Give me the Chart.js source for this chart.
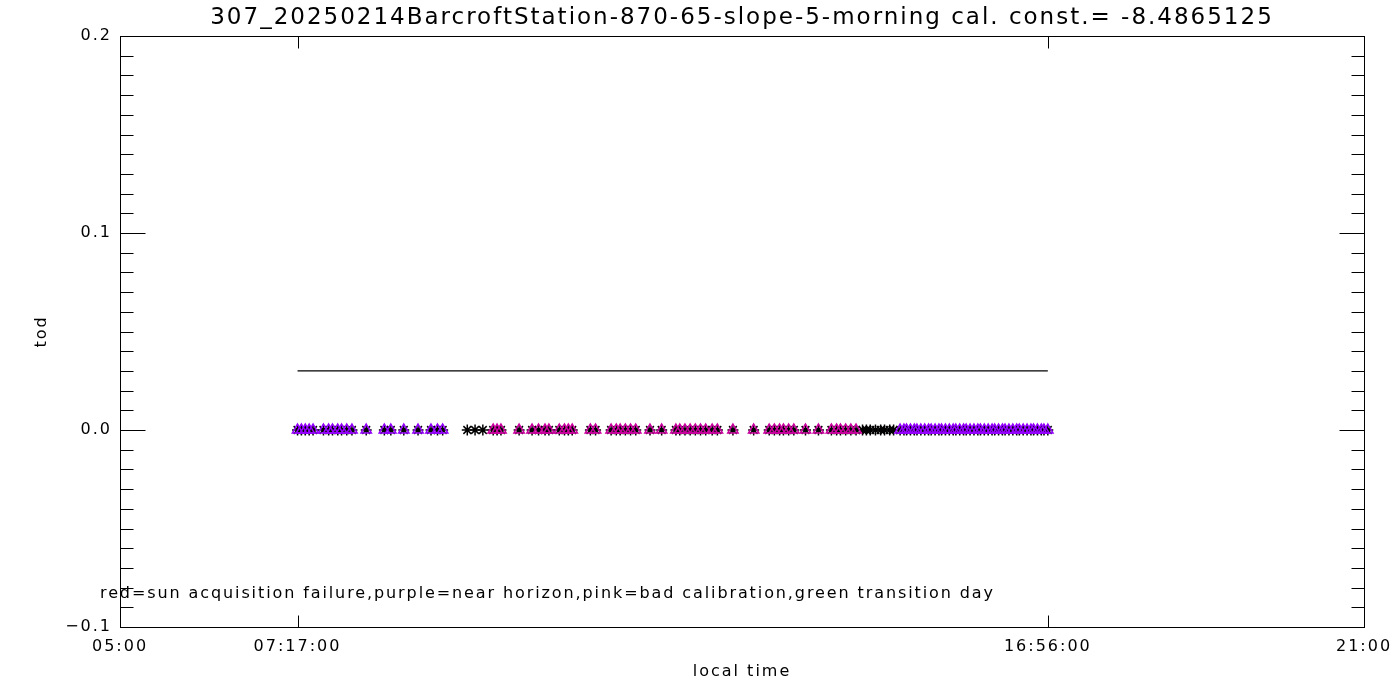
<!DOCTYPE html>
<html>
<head>
<meta charset="utf-8">
<script src="https://cdn.jsdelivr.net/npm/chart.js@4"></script>
<style>
  body { margin: 0; background: #fff; }
  canvas { display: block; }
</style>
</head>
<body>
<canvas id="todchart" width="1400" height="700"></canvas>
<script>
// local times (HH:MM), grouped by flag colour
const purpleTimes = [
  "07:17", "07:20", "07:23", "07:26", "07:29", "07:37", "07:41", "07:44", "07:48", "07:51",
  "07:55", "07:59", "08:10", "08:24", "08:29", "08:39", "08:50", "09:00", "09:05", "09:09",
  "15:02", "15:05", "15:07", "15:10", "15:13", "15:15", "15:18", "15:21", "15:24", "15:26",
  "15:29", "15:32", "15:34", "15:37", "15:40", "15:43", "15:45", "15:48", "15:51", "15:53",
  "15:56", "15:59", "16:02", "16:04", "16:07", "16:10", "16:13", "16:15", "16:18", "16:21",
  "16:23", "16:26", "16:29", "16:32", "16:34", "16:37", "16:40", "16:43", "16:45", "16:48",
  "16:51", "16:53", "16:56"
];
const purpleTod = [
  0, 0, 0, 0, 0, 0, 0, 0, 0, 0,
  0, 0, 0, 0, 0, 0, 0, 0, 0, 0,
  0, 0, 0, 0, 0, 0, 0, 0, 0, 0,
  0, 0, 0, 0, 0, 0, 0, 0, 0, 0,
  0, 0, 0, 0, 0, 0, 0, 0, 0, 0,
  0, 0, 0, 0, 0, 0, 0, 0, 0, 0,
  0, 0, 0
];
const pinkTimes = [
  "09:48", "09:51", "09:54", "10:08", "10:18", "10:23", "10:28", "10:31", "10:39", "10:43",
  "10:46", "10:49", "11:03", "11:07", "11:19", "11:23", "11:26", "11:30", "11:34", "11:38",
  "11:49", "11:58", "12:09", "12:12", "12:16", "12:20", "12:24", "12:28", "12:32", "12:37",
  "12:41", "12:53", "13:09", "13:21", "13:25", "13:29", "13:32", "13:36", "13:40", "13:49",
  "13:59", "14:09", "14:13", "14:16", "14:20", "14:24", "14:28"
];
const pinkTod = [
  0, 0, 0, 0, 0, 0, 0, 0, 0, 0,
  0, 0, 0, 0, 0, 0, 0, 0, 0, 0,
  0, 0, 0, 0, 0, 0, 0, 0, 0, 0,
  0, 0, 0, 0, 0, 0, 0, 0, 0, 0,
  0, 0, 0, 0, 0, 0, 0
];
const goodTimes = [
  "09:28", "09:34", "09:40",
  "14:33", "14:36", "14:39", "14:43", "14:47", "14:50", "14:54", "14:57"
];
const goodTod = [0, 0, 0, 0, 0, 0, 0, 0, 0, 0, 0];

// reference line
const lineStart = "07:17";
const lineEnd = "16:56";
const lineLevel = 0.03;

// axes
const xMin = "05:00";
const xMax = "21:00";
const xTickTimes = ["05:00", "07:17", "16:56", "21:00"];
const xTickLabels = ["05:00", "07:17:00", "16:56:00", "21:00"];
const yTickValues = [-0.1, 0.0, 0.1, 0.2];
const yTickLabels = ["\u22120.1", "0.0", "0.1", "0.2"];

const titleText = "307_20250214BarcroftStation-870-65-slope-5-morning cal. const.= -8.4865125";
const noteText = "red=sun acquisition failure,purple=near horizon,pink=bad calibration,green transition day";

const purple = "rgb(150, 0, 255)";
const pink = "rgb(204, 0, 160)";
const font = "'DejaVu Sans', sans-serif";

const toMin = (t) => {
  const [h, m] = t.split(":").map(Number);
  return h * 60 + m;
};
const pts = (times, vals) => times.map((t, i) => ({ x: toMin(t), y: vals[i] }));

// the IDL vector font is wide, so space the letters out a bit
const spacing = {
  id: "spacing",
  beforeLayout(chart) { chart.ctx.letterSpacing = "2px"; },
  beforeDraw(chart) { chart.ctx.letterSpacing = "2px"; },
};

// IDL style frame: box with inward ticks on all four sides
const idlFrame = {
  id: "idlFrame",
  afterDraw(chart) {
    const ctx = chart.ctx;
    const a = chart.chartArea;
    const xs = chart.scales.x;
    const ys = chart.scales.y;
    const L = Math.round(a.left) + 0.5;
    const R = Math.round(a.right) + 0.5;
    const T = Math.round(a.top) + 0.5;
    const B = Math.round(a.bottom) + 0.5;
    ctx.save();
    ctx.strokeStyle = "#000";
    ctx.lineWidth = 1;
    ctx.strokeRect(L, T, R - L, B - T);
    ctx.beginPath();
    for (let k = -9; k < 20; k++) {
      const v = k / 100;
      const py = Math.round(ys.getPixelForValue(v)) + 0.5;
      const len = k % 10 === 0 ? 25 : 13;
      ctx.moveTo(L, py); ctx.lineTo(L + len, py);
      ctx.moveTo(R, py); ctx.lineTo(R - len, py);
    }
    xTickTimes.slice(1, -1).forEach((t) => {
      const px = Math.round(xs.getPixelForValue(toMin(t))) + 0.5;
      ctx.moveTo(px, B); ctx.lineTo(px, B - 12);
      ctx.moveTo(px, T); ctx.lineTo(px, T + 12);
    });
    ctx.stroke();
    ctx.fillStyle = "#000";
    ctx.font = "16px " + font;
    ctx.letterSpacing = "1.9px";
    ctx.textBaseline = "middle";
    ctx.textAlign = "left";
    ctx.fillText(noteText, 100, 594);
    ctx.restore();
  },
};

const ctx = document.getElementById("todchart");
const allTimes = purpleTimes.concat(pinkTimes, goodTimes);
const allTod = purpleTod.concat(pinkTod, goodTod);

new Chart(ctx, {
  type: "scatter",
  data: {
    datasets: [
      {
        label: "near horizon",
        data: pts(purpleTimes, purpleTod),
        pointStyle: "triangle",
        pointRadius: 6,
        borderColor: purple,
        backgroundColor: "rgba(0,0,0,0)",
        borderWidth: 1.5,
        order: 1,
      },
      {
        label: "bad calibration",
        data: pts(pinkTimes, pinkTod),
        pointStyle: "triangle",
        pointRadius: 6,
        borderColor: pink,
        backgroundColor: "rgba(0,0,0,0)",
        borderWidth: 1.5,
        order: 1,
      },
      {
        label: "tod",
        data: pts(allTimes, allTod),
        pointStyle: "star",
        pointRadius: 5.5,
        borderColor: "#000",
        backgroundColor: "#000",
        borderWidth: 1.5,
        order: 2,
      },
      {
        type: "line",
        label: "line",
        data: [
          { x: toMin(lineStart), y: lineLevel },
          { x: toMin(lineEnd), y: lineLevel },
        ],
        borderColor: "#000",
        borderWidth: 1.2,
        pointRadius: 0,
        showLine: true,
        order: 3,
      },
    ],
  },
  options: {
    responsive: false,
    animation: false,
    devicePixelRatio: 1,
    layout: { padding: { left: 0, right: 36, top: 0, bottom: 0 } },
    plugins: {
      legend: { display: false },
      tooltip: { enabled: false },
      title: {
        display: true,
        text: titleText,
        fullSize: false,
        color: "#000",
        font: { family: font, size: 23, weight: "normal", lineHeight: 1 },
        padding: { top: 7, bottom: 6 },
      },
    },
    scales: {
      x: {
        type: "linear",
        min: toMin(xMin),
        max: toMin(xMax),
        grid: { display: false, drawTicks: false },
        border: { display: false },
        afterBuildTicks: (scale) => {
          scale.ticks = xTickTimes.map((t) => ({ value: toMin(t) }));
        },
        afterFit: (scale) => {
          scale.height = 73;
          scale.paddingLeft = 0;
          scale.paddingRight = 0;
        },
        ticks: {
          color: "#000",
          autoSkip: false,
          maxRotation: 0,
          padding: 10,
          font: { family: font, size: 16 },
          callback: (v, i) => xTickLabels[i],
        },
        title: {
          display: true,
          text: "local time",
          color: "#000",
          font: { family: font, size: 16, lineHeight: 1.2 },
          padding: { top: 0, bottom: 19 },
        },
      },
      y: {
        type: "linear",
        min: yTickValues[0],
        max: yTickValues[yTickValues.length - 1],
        grid: { display: false, drawTicks: false },
        border: { display: false },
        afterBuildTicks: (scale) => {
          scale.ticks = yTickValues.map((v) => ({ value: v }));
        },
        afterFit: (scale) => {
          scale.width = 120;
          scale.paddingTop = 0;
          scale.paddingBottom = 0;
        },
        ticks: {
          color: "#000",
          padding: 8,
          font: { family: font, size: 16 },
          callback: (v, i) => yTickLabels[i],
        },
        title: {
          display: true,
          text: "tod",
          color: "#000",
          font: { family: font, size: 16, lineHeight: 1.2 },
          padding: { top: 32, bottom: 0 },
        },
      },
    },
  },
  plugins: [spacing, idlFrame],
});
</script>
</body>
</html>
